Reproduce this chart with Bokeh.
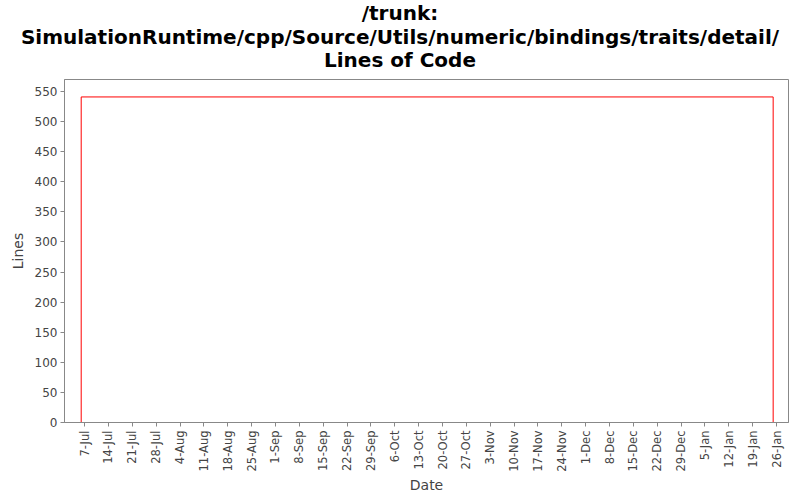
import math
from datetime import datetime, timedelta

from bokeh.plotting import figure
from bokeh.layouts import column
from bokeh.models import FixedTicker, Range1d, Div
from bokeh.embed import file_html
from bokeh.resources import INLINE

title_lines = ["/trunk:",
               "SimulationRuntime/cpp/Source/Utils/numeric/bindings/traits/detail/",
               "Lines of Code"]

# line of code series
dates = ["2008-07-06", "2008-07-06", "2009-01-25", "2009-01-25"]
loc = [0, 541, 541, 0]

# weekly ticks
tick_labels = ["7-Jul", "14-Jul", "21-Jul", "28-Jul", "4-Aug", "11-Aug",
               "18-Aug", "25-Aug", "1-Sep", "8-Sep", "15-Sep", "22-Sep",
               "29-Sep", "6-Oct", "13-Oct", "20-Oct", "27-Oct", "3-Nov",
               "10-Nov", "17-Nov", "24-Nov", "1-Dec", "8-Dec", "15-Dec",
               "22-Dec", "29-Dec", "5-Jan", "12-Jan", "19-Jan", "26-Jan"]
first_tick = "2008-07-07"
y_ticks = list(range(0, 551, 50))

FONT = "DejaVu Sans"
EPOCH = datetime(1970, 1, 1)


def ms(d):
    return (d - EPOCH).total_seconds() * 1000.0


x = [datetime.strptime(d, "%Y-%m-%d") for d in dates]
t0 = datetime.strptime(first_tick, "%Y-%m-%d")
tick_dates = [t0 + timedelta(days=7 * i) for i in range(len(tick_labels))]
tick_ms = [ms(d) for d in tick_dates]

# title centred over the whole picture
head = Div(text="<br>".join(title_lines), width=800, height=71,
           margin=(0, 0, 0, 0),
           styles={"text-align": "center", "font-family": FONT,
                   "font-weight": "bold", "font-size": "20px",
                   "line-height": "23.5px", "color": "black",
                   "padding-top": "2px", "white-space": "nowrap"})

p = figure(width=800, height=429, x_axis_type="datetime", title=None,
           x_range=Range1d(ms(t0 - timedelta(days=5.9)),
                           ms(tick_dates[-1] + timedelta(days=3.5))),
           y_range=Range1d(0, 570),
           output_backend="svg", toolbar_location=None,
           min_border_left=64, min_border_right=12,
           min_border_top=8, min_border_bottom=78)

p.line(x=x, y=loc, color="red", line_width=1)

p.xaxis.ticker = FixedTicker(ticks=tick_ms)
p.xaxis.major_label_overrides = dict(zip(tick_ms, tick_labels))
p.xaxis.major_label_orientation = math.pi / 2
p.yaxis.ticker = FixedTicker(ticks=y_ticks)
p.xaxis.axis_label = "Date"
p.yaxis.axis_label = "Lines"

for ax in (p.xaxis, p.yaxis):
    ax.axis_label_text_font = FONT
    ax.axis_label_text_font_size = "14px"
    ax.axis_label_text_font_style = "normal"
    ax.axis_label_text_color = "#444444"
    ax.major_label_text_font = FONT
    ax.major_label_text_font_size = "12px"
    ax.major_label_text_color = "#444444"
    ax.axis_line_color = "#888888"
    ax.major_tick_line_color = "#888888"
    ax.major_tick_in = 0
    ax.major_tick_out = 4
    ax.minor_tick_line_color = None
p.xaxis.major_label_text_font_size = "11.5px"
p.xaxis.major_label_standoff = 4
p.xaxis.axis_label_standoff = 2
p.yaxis.major_label_standoff = 3
p.yaxis.axis_label_standoff = 6

p.xgrid.grid_line_color = None
p.ygrid.grid_line_color = None
p.outline_line_color = "#888888"
p.background_fill_color = "white"
p.border_fill_color = "white"

page = column(head, p, spacing=0)
open("out.html", "w").write(file_html(page, INLINE))
